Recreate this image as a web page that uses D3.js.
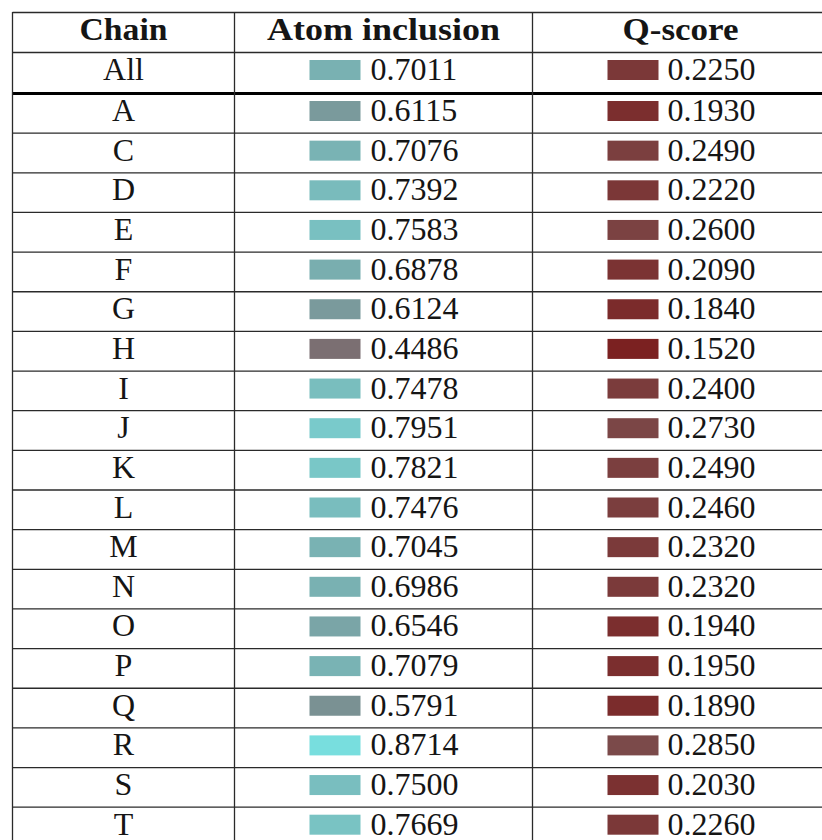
<!DOCTYPE html>
<html>
<head>
<meta charset="utf-8">
<script src="https://cdn.jsdelivr.net/npm/d3@7"></script>
<style>
  html, body { margin: 0; padding: 0; background: #fff; overflow: hidden; }
  svg { display: block; }
</style>
</head>
<body>
<svg id="chart" width="822" height="840"></svg>
<script>
// table data
const headers = ["Chain", "Atom inclusion", "Q-score"]
const summaryLabel = "All"
const summaryAtom = 0.7011
const summaryQ = 0.2250

const chains = ["A", "C", "D", "E", "F", "G", "H", "I", "J", "K", "L", "M", "N", "O", "P", "Q", "R", "S", "T"]
const atomInclusion = [0.6115, 0.7076, 0.7392, 0.7583, 0.6878, 0.6124, 0.4486, 0.7478, 0.7951, 0.7821,
  0.7476, 0.7045, 0.6986, 0.6546, 0.7079, 0.5791, 0.8714, 0.7500, 0.7669]
const qScore = [0.1930, 0.2490, 0.2220, 0.2600, 0.2090, 0.1840, 0.1520, 0.2400, 0.2730, 0.2490,
  0.2460, 0.2320, 0.2320, 0.1940, 0.1950, 0.1890, 0.2850, 0.2030, 0.2260]

const svg = d3.select("#chart")
const font = "'Liberation Serif', 'Times New Roman', serif"
const ink = "#151515"
const rule = "#2a2a2a"
const cellSize = "32px"

// columns
const colEdges = [12.5, 234.5, 532.5, 828.5]
const colX = d3.scaleOrdinal().domain(headers).range(colEdges.slice(0, 3))
const colW = d3.scaleOrdinal().domain(headers).range([222, 298, 296])

// rows
const headerTop = 12
const summaryTop = 52
const rowH = 39.65
const yRows = d3.scaleBand().domain(chains).range([93, 93 + chains.length * rowH])

// colour ramps, from the data extents
const atomColor = d3.scaleLinear().domain(d3.extent(atomInclusion)).range(["#7b6f72", "#78dede"])
const qColor = d3.scaleLinear().domain(d3.extent(qScore)).range(["#7b2121", "#7b4a4a"])

const rows = [{ label: summaryLabel, atom: summaryAtom, q: summaryQ, top: summaryTop }]
chains.forEach((c, i) => rows.push({ label: c, atom: atomInclusion[i], q: qScore[i], top: yRows(c) }))

// header
svg.selectAll(".head")
  .data(headers)
  .join("text")
  .attr("class", "head")
  .attr("x", d => colX(d) + colW(d) / 2)
  .attr("y", headerTop + 28)
  .attr("text-anchor", "middle")
  .attr("textLength", (d, i) => [88, 233, 116][i])
  .attr("lengthAdjust", "spacingAndGlyphs")
  .style("font-family", font)
  .style("font-weight", "bold")
  .style("font-size", "31px")
  .attr("fill", ink)
  .text(d => d)

const g = svg.selectAll(".row")
  .data(rows)
  .join("g")
  .attr("class", "row")
  .attr("transform", d => `translate(0,${d.top})`)

g.append("text")
  .attr("x", colX("Chain") + colW("Chain") / 2)
  .attr("y", 28)
  .attr("text-anchor", "middle")
  .style("font-family", font)
  .style("font-size", cellSize)
  .attr("fill", ink)
  .text(d => d.label)

g.append("rect")
  .attr("x", colX("Atom inclusion") + 75)
  .attr("y", 8)
  .attr("width", 51)
  .attr("height", 20)
  .attr("fill", d => atomColor(d.atom))

g.append("text")
  .attr("x", colX("Atom inclusion") + 136)
  .attr("y", 28)
  .style("font-family", font)
  .style("font-size", cellSize)
  .attr("fill", ink)
  .text(d => d.atom.toFixed(4))

g.append("rect")
  .attr("x", colX("Q-score") + 75)
  .attr("y", 8)
  .attr("width", 51)
  .attr("height", 20)
  .attr("fill", d => qColor(d.q))

g.append("text")
  .attr("x", colX("Q-score") + 135)
  .attr("y", 28)
  .style("font-family", font)
  .style("font-size", cellSize)
  .attr("fill", ink)
  .text(d => d.q.toFixed(4))

// horizontal rules
const hLines = [headerTop, summaryTop].concat(chains.slice(1).map(c => yRows(c)))
svg.selectAll(".hline")
  .data(hLines)
  .join("line")
  .attr("class", "hline")
  .attr("x1", colEdges[0])
  .attr("x2", colEdges[3])
  .attr("y1", d => d + 0.5)
  .attr("y2", d => d + 0.5)
  .attr("stroke", rule)
  .attr("stroke-width", 1.3)

// thick rule under the summary row
svg.append("line")
  .attr("x1", colEdges[0])
  .attr("x2", colEdges[3])
  .attr("y1", 93.5)
  .attr("y2", 93.5)
  .attr("stroke", "#000")
  .attr("stroke-width", 3.2)

// vertical rules
svg.selectAll(".vline")
  .data(colEdges)
  .join("line")
  .attr("class", "vline")
  .attr("x1", d => d)
  .attr("x2", d => d)
  .attr("y1", headerTop)
  .attr("y2", 93 + chains.length * rowH)
  .attr("stroke", rule)
  .attr("stroke-width", 1.3)
</script>
</body>
</html>
